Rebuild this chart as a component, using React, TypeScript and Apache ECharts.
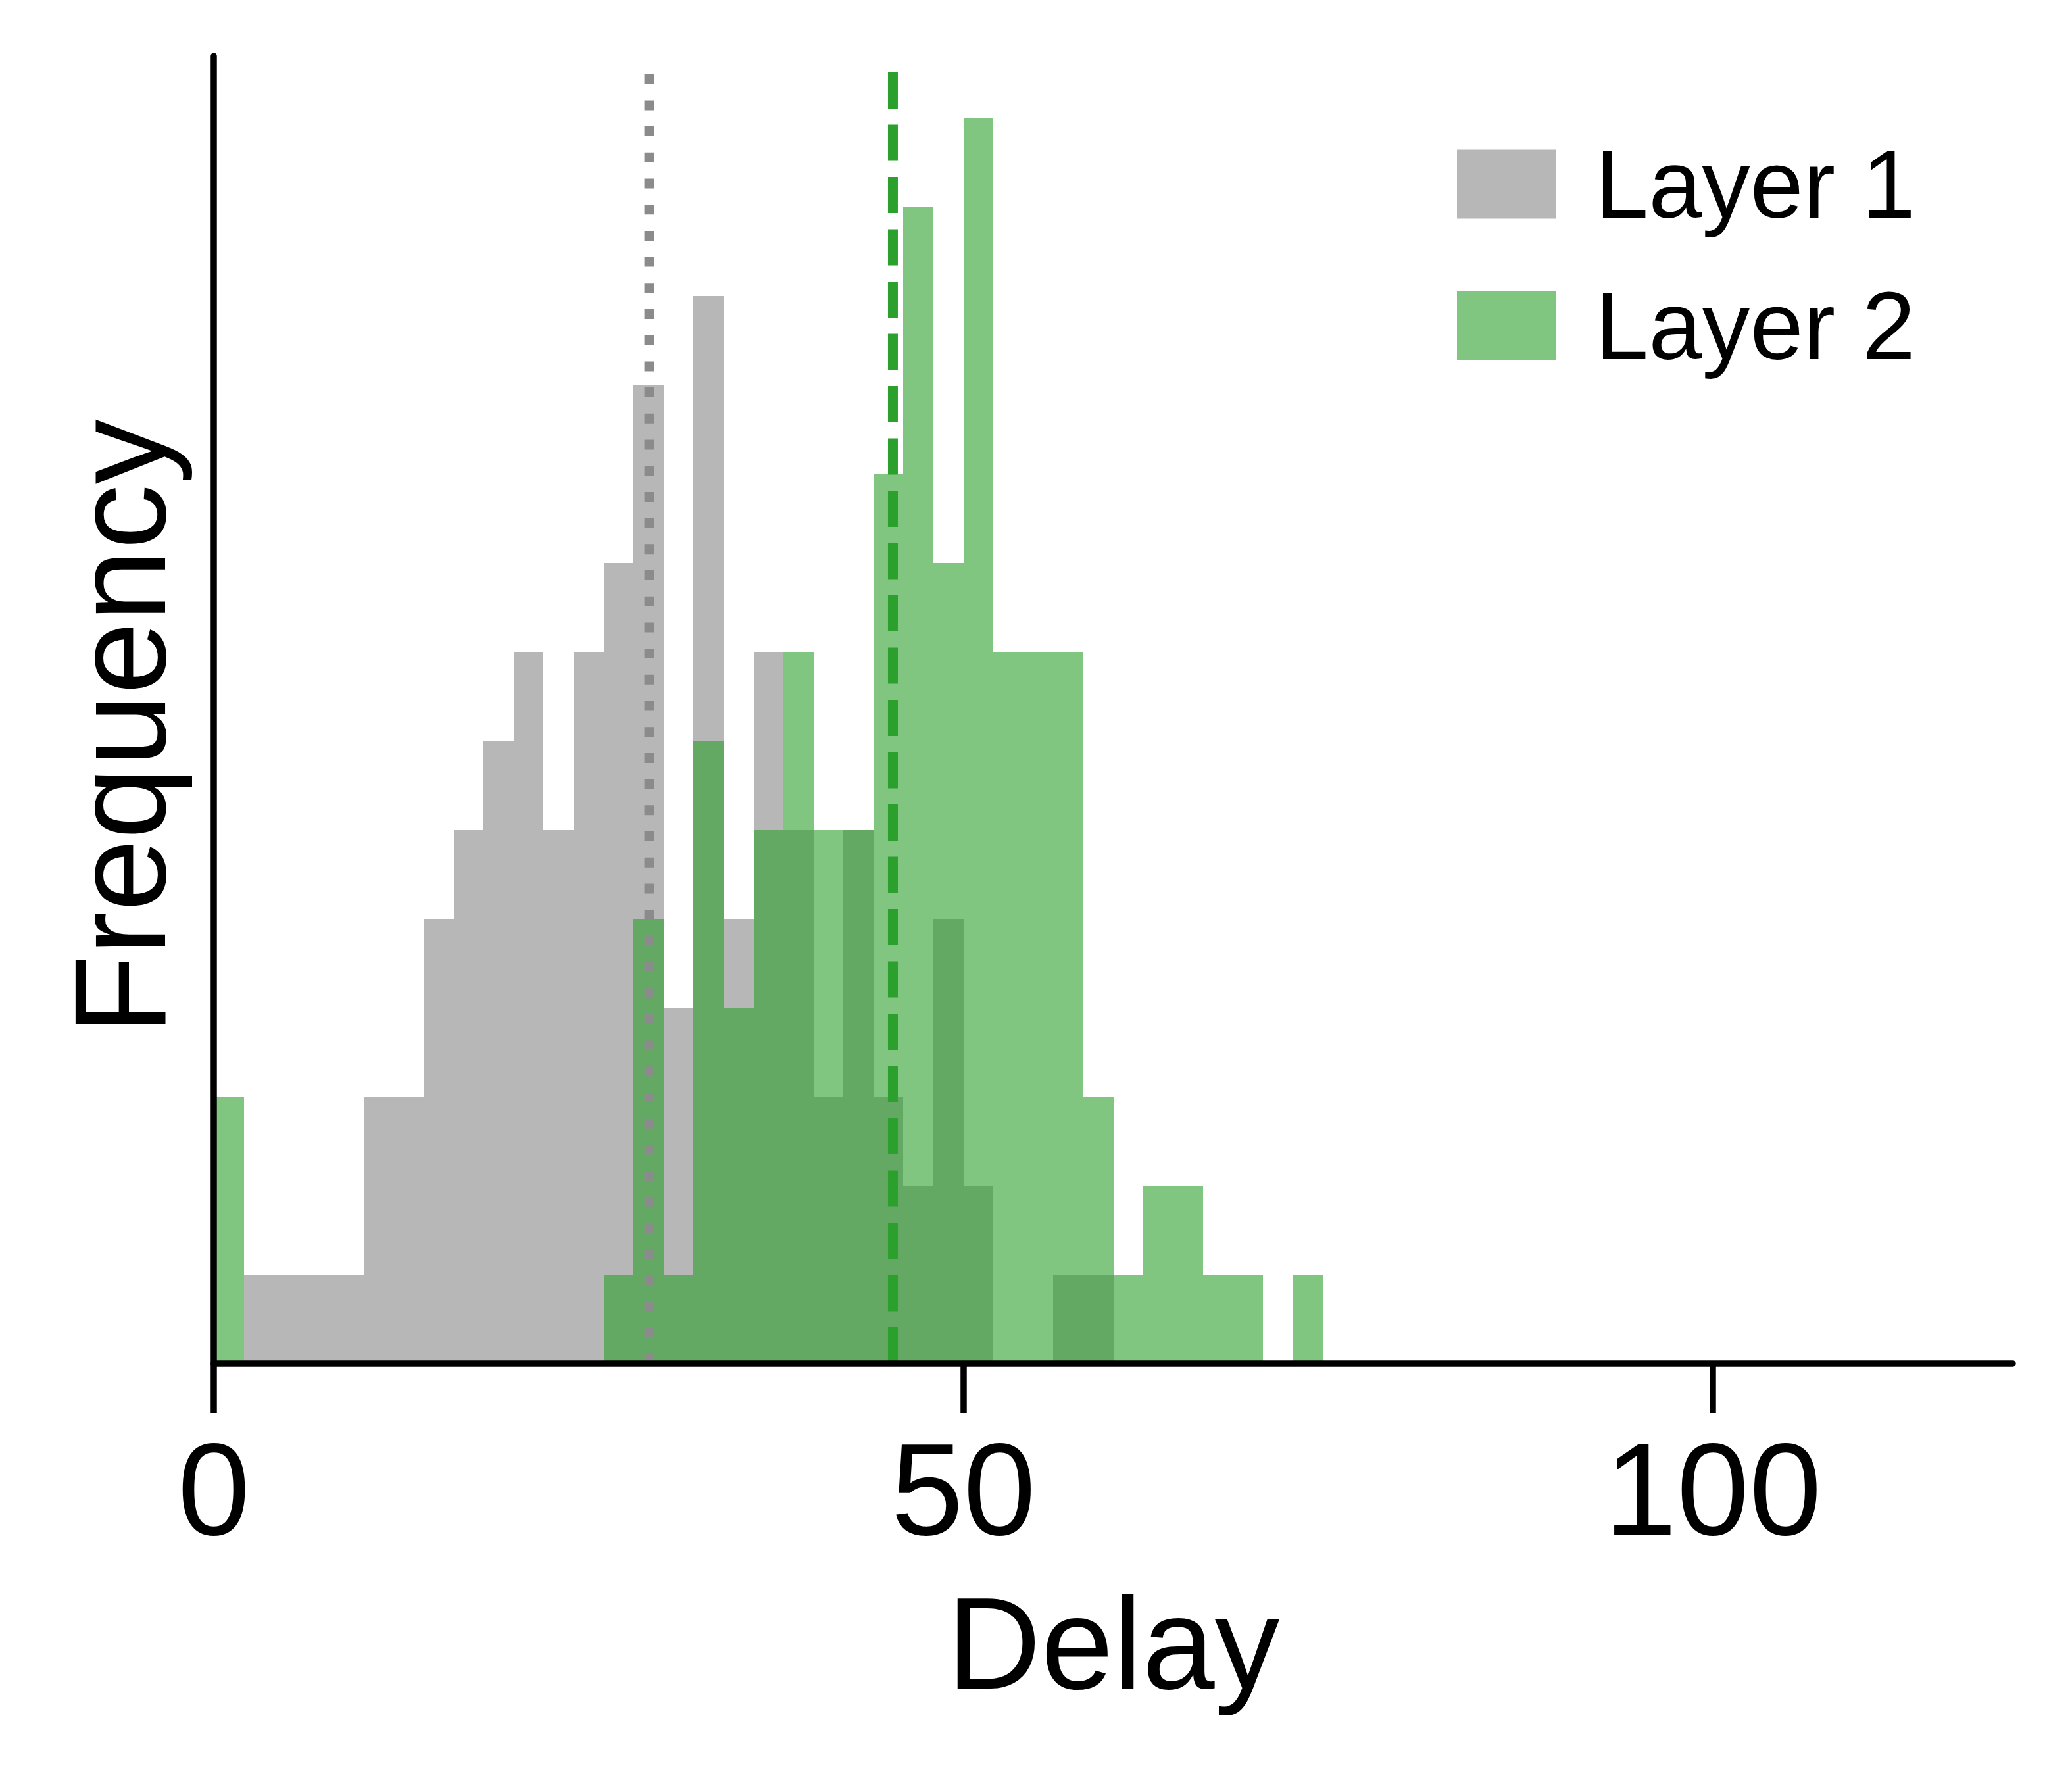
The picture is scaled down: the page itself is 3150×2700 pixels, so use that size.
import React, { useEffect, useRef } from 'react';
import * as echarts from 'echarts';

// ---- data ----
const binEdges = [0, 2, 4, 6, 8, 10, 12, 14, 16, 18, 20, 22, 24, 26, 28, 30, 32, 34, 36, 38, 40, 42, 44, 46, 48, 50, 52, 54, 56, 58, 60, 62, 64, 66, 68, 70, 72, 74];
const layer1Counts = [0, 1, 1, 1, 1, 3, 3, 5, 6, 7, 8, 6, 8, 9, 11, 4, 12, 5, 8, 6, 3, 6, 3, 2, 5, 2, 0, 0, 1, 1, 0, 0, 0, 0, 0, 0, 0];
const layer2Counts = [3, 0, 0, 0, 0, 0, 0, 0, 0, 0, 0, 0, 0, 1, 5, 1, 7, 4, 6, 8, 6, 6, 10, 13, 9, 14, 8, 8, 8, 3, 1, 2, 2, 1, 1, 0, 1];
const seriesNames = ['Layer 1', 'Layer 2'];
const markerValues = [29.05, 45.3];
const markerTop = 14.52;
const xTicks = [0, 50, 100];
const xRange = [0, 120];
const yRange = [0, 14.7];
const xAxisName = 'Delay';
const yAxisName = 'Frequency';

const FONT = 'Liberation Sans';
const GRAY = '#b7b7b7';
const GREEN = 'rgba(44,160,44,0.6)';

function toBins(counts: number[]) {
  const out: number[][] = [];
  counts.forEach((c, i) => {
    if (c > 0) out.push([binEdges[i], binEdges[i + 1], c]);
  });
  return out;
}

function histSeries(name: string, counts: number[], color: string) {
  return {
    type: 'custom',
    name,
    itemStyle: { color },
    encode: { x: [0, 1], y: 2 },
    data: toBins(counts),
    renderItem: (params: any, api: any) => {
      const x0 = api.value(0);
      const x1 = api.value(1);
      const c = api.value(2);
      const p0 = api.coord([x0, c]);
      const p1 = api.coord([x1, 0]);
      const left = Math.round(p0[0]);
      const right = Math.round(p1[0]);
      const top = Math.round(p0[1]);
      const bottom = Math.round(p1[1]);
      return {
        type: 'rect',
        shape: { x: left, y: top, width: right - left, height: bottom - top },
        style: { fill: color, stroke: null },
      };
    },
    z: 2,
  };
}

export default function App() {
  const ref = useRef<HTMLDivElement>(null);
  useEffect(() => {
    if (!ref.current) return;
    const chart = echarts.init(ref.current, null, { renderer: 'svg' });
    chart.setOption({
      animation: false,
      backgroundColor: '#ffffff',
      textStyle: { fontFamily: FONT },
      grid: { left: 325, top: 85, width: 2735, height: 1988, containLabel: false, outerBoundsMode: 'none' },
      legend: {
        orient: 'vertical',
        left: 2215,
        top: 207,
        padding: 0,
        itemGap: 69,
        itemWidth: 150,
        itemHeight: 105,
        icon: 'rect',
        selectedMode: false,
        textStyle: { fontSize: 146, color: '#000', fontFamily: FONT, padding: [0, 0, 0, 55] },
        data: [
          { name: seriesNames[0], itemStyle: { color: GRAY } },
          { name: seriesNames[1], itemStyle: { color: GREEN } },
        ],
      },
      xAxis: {
        type: 'value',
        min: xRange[0],
        max: xRange[1],
        interval: 50,
        name: xAxisName,
        nameLocation: 'middle',
        nameGap: 326,
        nameTextStyle: { fontSize: 198, color: '#000', fontFamily: FONT },
        axisLine: { show: true, onZero: false, lineStyle: { color: '#000', width: 9.5 } },
        axisTick: { show: true, length: 75, customValues: xTicks, lineStyle: { color: '#000', width: 9.5 } },
        axisLabel: { show: true, fontSize: 198, color: '#000', fontFamily: FONT, margin: 92, customValues: xTicks },
        splitLine: { show: false },
        z: 10,
      },
      yAxis: {
        type: 'value',
        min: yRange[0],
        max: yRange[1],
        name: yAxisName,
        nameLocation: 'middle',
        nameGap: 44,
        nameTextStyle: { fontSize: 198, color: '#000', fontFamily: FONT, padding: [0, 52, 0, 0] },
        axisLine: { show: true, onZero: false, lineStyle: { color: '#000', width: 9.5 } },
        axisTick: { show: false },
        axisLabel: { show: false },
        splitLine: { show: false },
        z: 10,
      },
      series: [
        histSeries(seriesNames[0], layer1Counts, GRAY),
        histSeries(seriesNames[1], layer2Counts, GREEN),
        {
          type: 'line',
          name: 'Layer 1 marker',
          data: [[markerValues[0], 0], [markerValues[0], markerTop]],
          showSymbol: false,
          symbol: 'none',
          lineStyle: { color: '#8b8b8b', width: 15, type: [15, 24.7], cap: 'butt' },
          z: 5,
        },
        {
          type: 'line',
          name: 'Layer 2 marker',
          data: [[markerValues[1], 0], [markerValues[1], markerTop]],
          showSymbol: false,
          symbol: 'none',
          lineStyle: { color: '#2ca02c', width: 15, type: [55, 24.5], cap: 'butt' },
          z: 5,
        },
      ],
    });
    return () => chart.dispose();
  }, []);
  return <div ref={ref} style={{ position: 'absolute', left: 0, top: 0, width: 3150, height: 2700 }} />;
}
